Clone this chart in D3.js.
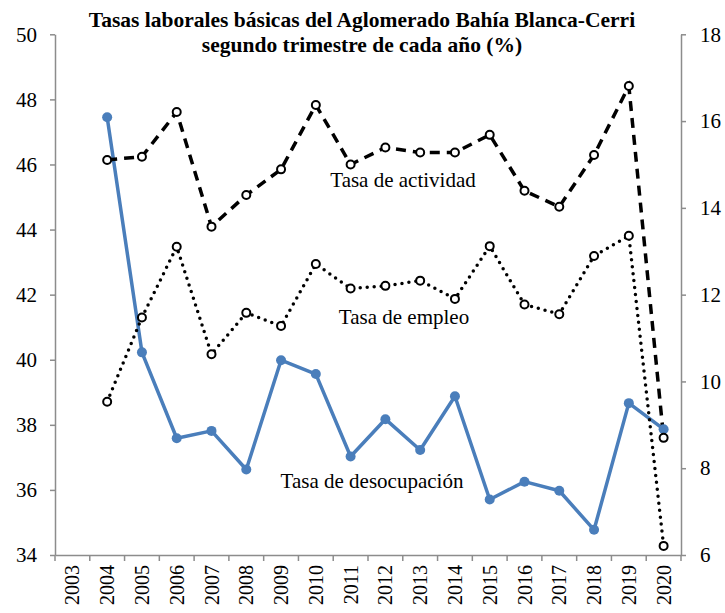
<!DOCTYPE html>
<html>
<head>
<meta charset="utf-8">
<script src="https://cdn.jsdelivr.net/npm/d3@7"></script>
<style>
  html, body { margin: 0; padding: 0; background: #fff; }
  svg { display: block; }
  svg text { font-family: 'Liberation Serif', 'Times New Roman', serif; }
</style>
</head>
<body>
<div id="chart"></div>
<script>
// Tasas laborales básicas - Bahía Blanca-Cerri (2do trimestre)
const anios = ["2003","2004","2005","2006","2007","2008","2009","2010","2011","2012",
               "2013","2014","2015","2016","2017","2018","2019","2020"];
const aniosDatos = anios.slice(1);

const tasaActividad = [46.14, 46.24, 47.61, 44.09, 45.06, 45.85, 47.83, 46.00, 46.52,
                       46.37, 46.37, 46.91, 45.19, 44.70, 46.29, 48.41, 37.60];
const tasaEmpleo = [38.71, 41.30, 43.47, 40.17, 41.44, 41.04, 42.94, 42.19, 42.27,
                    42.43, 41.87, 43.49, 41.70, 41.40, 43.19, 43.81, 34.28];
const tasaDesocupacion = [16.09, 10.67, 8.69, 8.86, 7.97, 10.49, 10.17, 8.27, 9.13,
                          8.42, 9.66, 7.28, 7.69, 7.48, 6.58, 9.50, 8.90];

const ticksIzq = [34, 36, 38, 40, 42, 44, 46, 48, 50];
const ticksDer = [6, 8, 10, 12, 14, 16, 18];

const width = 725, height = 613;
const margin = { top: 34.3, right: 44, bottom: 58, left: 55 };
const innerW = width - margin.left - margin.right;
const innerH = height - margin.top - margin.bottom;
const fuente = "'Liberation Serif', 'Times New Roman', serif";
const colorEje = "#8c8c8c";
const azul = "#4a7ebb";

const svg = d3.select("#chart").append("svg")
  .attr("width", width).attr("height", height)
  .style("font-family", fuente);

const g = svg.append("g").attr("transform", `translate(${margin.left},${margin.top})`);

const x = d3.scaleBand().domain(anios).range([0, innerW]);
const yIzq = d3.scaleLinear().domain([34, 50]).range([innerH, 0]);
const yDer = d3.scaleLinear().domain([6, 18]).range([innerH, 0]);
const cx = a => x(a) + x.bandwidth() / 2;

// ejes
const ejeX = g.append("g")
  .attr("transform", `translate(0,${innerH})`)
  .call(d3.axisBottom(x).tickSize(6).tickSizeOuter(0).tickFormat(""));
// ticks en los bordes de categoría
ejeX.selectAll(".tick").remove();
ejeX.selectAll("line.borde")
  .data(d3.range(anios.length + 1))
  .join("line")
  .attr("class", "borde")
  .attr("x1", i => i * x.step()).attr("x2", i => i * x.step())
  .attr("y1", 0).attr("y2", 6);
ejeX.selectAll("text.anio")
  .data(anios)
  .join("text")
  .attr("class", "anio")
  .attr("transform", d => `translate(${cx(d) + 7},${10}) rotate(-90)`)
  .attr("text-anchor", "end")
  .attr("fill", "#000")
  .attr("font-size", 20)
  .style("font-family", fuente)
  .text(d => d);

const ejeIzq = g.append("g")
  .call(d3.axisLeft(yIzq).tickValues(ticksIzq).tickSize(5).tickSizeOuter(0).tickPadding(13));
ejeIzq.selectAll("text").attr("font-size", 21).attr("fill", "#000").style("font-family", fuente);

const ejeDer = g.append("g")
  .attr("transform", `translate(${innerW},0)`)
  .call(d3.axisRight(yDer).tickValues(ticksDer).tickSize(5).tickSizeOuter(0).tickPadding(14));
ejeDer.selectAll("text").attr("font-size", 21).attr("fill", "#000").style("font-family", fuente);

g.selectAll(".domain, .tick line, line.borde").attr("stroke", colorEje).attr("stroke-width", 1.5);

// líneas
const lineaIzq = d3.line().x((d, i) => cx(aniosDatos[i])).y(d => yIzq(d));
const lineaDer = d3.line().x((d, i) => cx(aniosDatos[i])).y(d => yDer(d));

g.append("path").datum(tasaDesocupacion)
  .attr("d", lineaDer).attr("fill", "none")
  .attr("stroke", azul).attr("stroke-width", 3.5).attr("stroke-linejoin", "round");

g.append("path").datum(tasaActividad)
  .attr("d", lineaIzq).attr("fill", "none")
  .attr("stroke", "#000").attr("stroke-width", 3.5)
  .attr("stroke-dasharray", "10,7");

g.append("path").datum(tasaEmpleo)
  .attr("d", lineaIzq).attr("fill", "none")
  .attr("stroke", "#000").attr("stroke-width", 3.5)
  .attr("stroke-linecap", "round")
  .attr("stroke-dasharray", "0,7");

// marcadores
g.selectAll("circle.desoc").data(tasaDesocupacion).join("circle")
  .attr("class", "desoc")
  .attr("cx", (d, i) => cx(aniosDatos[i])).attr("cy", d => yDer(d))
  .attr("r", 5).attr("fill", azul);

[tasaActividad, tasaEmpleo].forEach((serie, k) => {
  g.selectAll(`circle.s${k}`).data(serie).join("circle")
    .attr("class", `s${k}`)
    .attr("cx", (d, i) => cx(aniosDatos[i])).attr("cy", d => yIzq(d))
    .attr("r", 4).attr("fill", "#fff")
    .attr("stroke", "#000").attr("stroke-width", 2);
});

// etiquetas de series
const etiquetas = [
  { texto: "Tasa de actividad", x: 403, y: 187 },
  { texto: "Tasa de empleo", x: 404, y: 324 },
  { texto: "Tasa de desocupación", x: 372, y: 488 }
];
svg.selectAll("text.etiq").data(etiquetas).join("text")
  .attr("class", "etiq")
  .attr("x", d => d.x).attr("y", d => d.y)
  .attr("text-anchor", "middle")
  .attr("font-size", 21)
  .text(d => d.texto);

// título
const titulo = svg.append("text")
  .attr("text-anchor", "middle")
  .attr("font-weight", "bold")
  .attr("font-size", 21.5);
titulo.append("tspan").attr("x", 362).attr("y", 27)
  .text("Tasas laborales básicas del Aglomerado Bahía Blanca-Cerri");
titulo.append("tspan").attr("x", 362).attr("y", 52)
  .text("segundo trimestre de cada año (%)");
</script>
</body>
</html>
